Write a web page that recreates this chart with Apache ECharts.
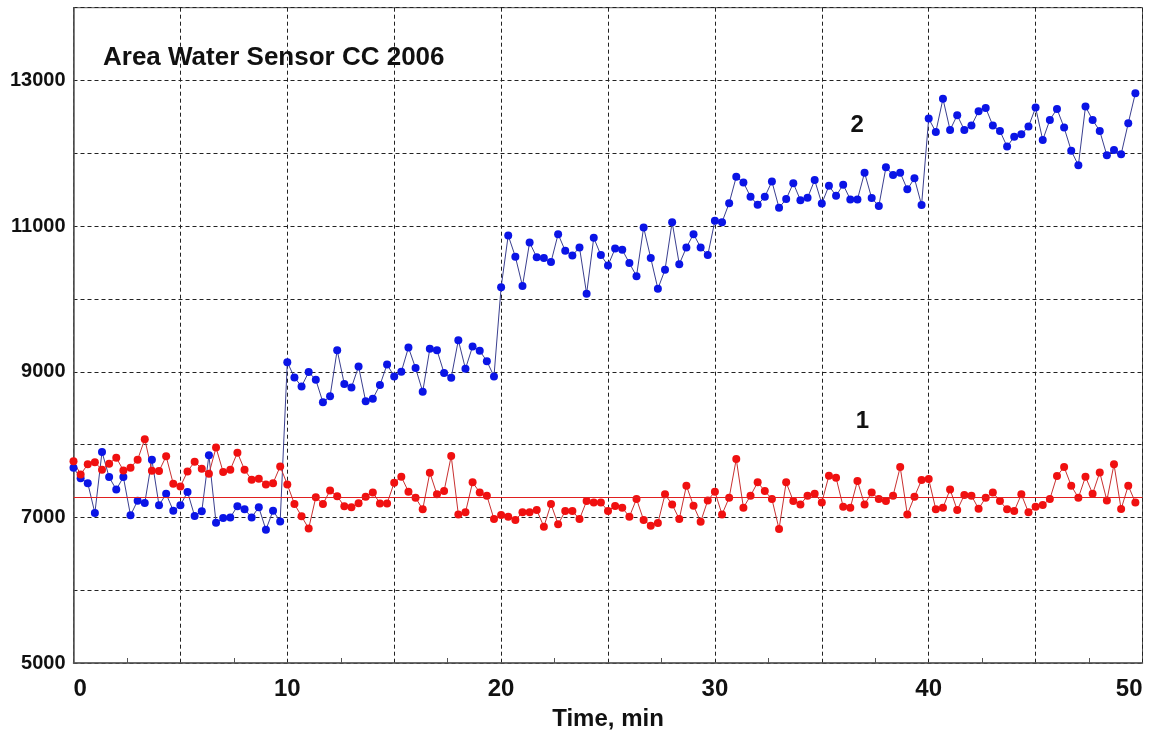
<!DOCTYPE html>
<html><head><meta charset="utf-8">
<script src="https://cdn.jsdelivr.net/npm/echarts@6/dist/echarts.min.js"></script>
<style>html,body{margin:0;padding:0;background:#fff}#c{width:1163px;height:738px}</style>
</head><body><div id="c"></div>
<script>
const titleText = 'Area Water Sensor CC 2006';
const xAxisName = 'Time, min';
const sampleStepMin = 1 / 3;
const xTickLabels = [0, 10, 20, 30, 40, 50];
const yTickLabels = [5000, 7000, 9000, 11000, 13000];
const referenceLevel1 = 7270;

// sensor 1 (red)
const sensor1 = [
 7770, 7590, 7728, 7756, 7654, 7737, 7820, 7645, 7682, 7793,
 8074, 7641, 7636, 7839, 7461, 7424, 7631, 7765, 7668, 7599,
 7958, 7622, 7654, 7889, 7654, 7516, 7530, 7452, 7470, 7700,
 7452, 7184, 7014, 6848, 7276, 7184, 7369, 7290, 7152, 7138,
 7195, 7284, 7343, 7192, 7192, 7476, 7558, 7352, 7270, 7110,
 7613, 7316, 7362, 7842, 7041, 7069, 7481, 7343, 7298, 6977,
 7032, 7009, 6963, 7069, 7069, 7101, 6872, 7183, 6904, 7087,
 7087, 6977, 7224, 7206, 7206, 7087, 7156, 7133, 7009, 7252,
 6963, 6886, 6922, 7316, 7178, 6977, 7435, 7160, 6940, 7233,
 7352, 7041, 7270, 7801, 7133, 7298, 7481, 7362, 7252, 6840,
 7481, 7224, 7178, 7298, 7325, 7206, 7572, 7545, 7146, 7133,
 7499, 7178, 7343, 7252, 7224, 7298, 7691, 7041, 7284, 7513,
 7526, 7110, 7133, 7384, 7101, 7307, 7298, 7119, 7270, 7343,
 7224, 7110, 7087, 7316, 7069, 7146, 7169, 7252, 7568, 7691,
 7435, 7270, 7558, 7325, 7618, 7233, 7728, 7114, 7435, 7206
];

// sensor 2 (blue)
const sensor2 = [
 7682, 7539, 7470, 7060, 7899, 7553, 7382, 7553, 7028, 7230,
 7198, 7793, 7166, 7323, 7092, 7166, 7350, 7018, 7083, 7852,
 6926, 6991, 7000, 7152, 7111, 7000, 7138, 6830, 7092, 6945,
 9132, 8922, 8799, 8995, 8890, 8580, 8662, 9297, 8831, 8785,
 9073, 8594, 8630, 8817, 9100, 8936, 9000, 9333, 9050, 8726,
 9315, 9297, 8982, 8918, 9434, 9041, 9347, 9288, 9146, 8936,
 10160, 10872, 10580, 10178, 10776, 10571, 10561, 10506, 10890, 10661,
 10597, 10707, 10071, 10840, 10602, 10460, 10693, 10675, 10492, 10313,
 10982, 10561, 10140, 10400, 11055, 10478, 10707, 10890, 10707, 10602,
 11073, 11055, 11316, 11677, 11600, 11403, 11293, 11403, 11613, 11252,
 11371, 11590, 11357, 11389, 11632, 11310, 11554, 11417, 11569, 11367,
 11367, 11734, 11385, 11275, 11807, 11702, 11734, 11505, 11656, 11289,
 12477, 12294, 12748, 12321, 12523, 12321, 12381, 12578, 12624, 12381,
 12307, 12092, 12229, 12261, 12367, 12628, 12183, 12459, 12610, 12353,
 12037, 11835, 12642, 12459, 12307, 11972, 12046, 11986, 12413, 12826
];

const curveLabels = [
  { text: '2', t: 36.65, v: 12380 },
  { text: '1', t: 36.9, v: 8320 }
];

const FONT = '"Liberation Sans", Arial, sans-serif';
const toPairs = arr => arr.map((v, i) => [i * sampleStepMin, v]);

const chart = echarts.init(document.getElementById('c'), null, { renderer: 'canvas' });
chart.setOption({
  animation: false,
  backgroundColor: '#ffffff',
  title: {
    text: titleText, left: 98, top: 40,
    textStyle: { fontFamily: FONT, fontSize: 26, fontWeight: 'bold', color: '#111' }
  },
  grid: { left: 73.5, right: 20.5, top: 7.7, bottom: 75, show: true, borderColor: '#555', borderWidth: 1, backgroundColor: '#fff' },
  xAxis: {
    type: 'value', min: 0, max: 50, interval: 5,
    name: xAxisName, nameLocation: 'middle', nameGap: 44,
    nameTextStyle: { fontFamily: FONT, fontSize: 24, fontWeight: 'bold', color: '#111' },
    axisLine: { show: true, lineStyle: { color: '#555', width: 1.5 } },
    axisTick: { show: false, inside: true },
    minorTick: { show: true, splitNumber: 2, length: 5, lineStyle: { color: '#555', width: 1 } },
    axisLabel: {
      margin: 14, fontFamily: FONT, fontSize: 24, fontWeight: 'bold', color: '#111',
      alignMinLabel: 'left', alignMaxLabel: 'right',
      formatter: v => xTickLabels.includes(v) ? String(v) : ''
    },
    splitLine: { show: true, lineStyle: { type: [4, 3], color: '#222', width: 1 } }
  },
  yAxis: {
    type: 'value', min: 5000, max: 14000, interval: 1000,
    axisLine: { show: true, lineStyle: { color: '#555', width: 1.5 } },
    axisTick: { show: false },
    axisLabel: {
      margin: 8, fontFamily: FONT, fontSize: 20, fontWeight: 'bold', color: '#111',
      formatter: v => yTickLabels.includes(v) ? String(v) : ''
    },
    splitLine: { show: true, lineStyle: { type: [4, 3], color: '#222', width: 1 } }
  },
  series: [
    {
      name: '2', type: 'line', data: toPairs(sensor2),
      symbol: 'circle', symbolSize: 8, showSymbol: true,
      itemStyle: { color: '#0a14e6' },
      lineStyle: { color: '#3a3f8f', width: 1 },
      markPoint: {
        symbol: 'circle', symbolSize: 1, itemStyle: { color: 'rgba(0,0,0,0)' },
        label: { show: true, position: 'inside', formatter: '{b}', fontFamily: FONT, fontSize: 24, fontWeight: 'bold', color: '#111' },
        data: [{ name: curveLabels[0].text, coord: [curveLabels[0].t, curveLabels[0].v] }]
      }
    },
    {
      name: '1', type: 'line', data: toPairs(sensor1),
      symbol: 'circle', symbolSize: 8, showSymbol: true,
      itemStyle: { color: '#f01010' },
      lineStyle: { color: '#c83030', width: 1 },
      markLine: {
        silent: true, symbol: 'none', label: { show: false },
        lineStyle: { type: 'solid', color: '#e02020', width: 1 },
        data: [{ yAxis: referenceLevel1 }]
      },
      markPoint: {
        symbol: 'circle', symbolSize: 1, itemStyle: { color: 'rgba(0,0,0,0)' },
        label: { show: true, position: 'inside', formatter: '{b}', fontFamily: FONT, fontSize: 24, fontWeight: 'bold', color: '#111' },
        data: [{ name: curveLabels[1].text, coord: [curveLabels[1].t, curveLabels[1].v] }]
      }
    }
  ]
});
</script></body></html>
